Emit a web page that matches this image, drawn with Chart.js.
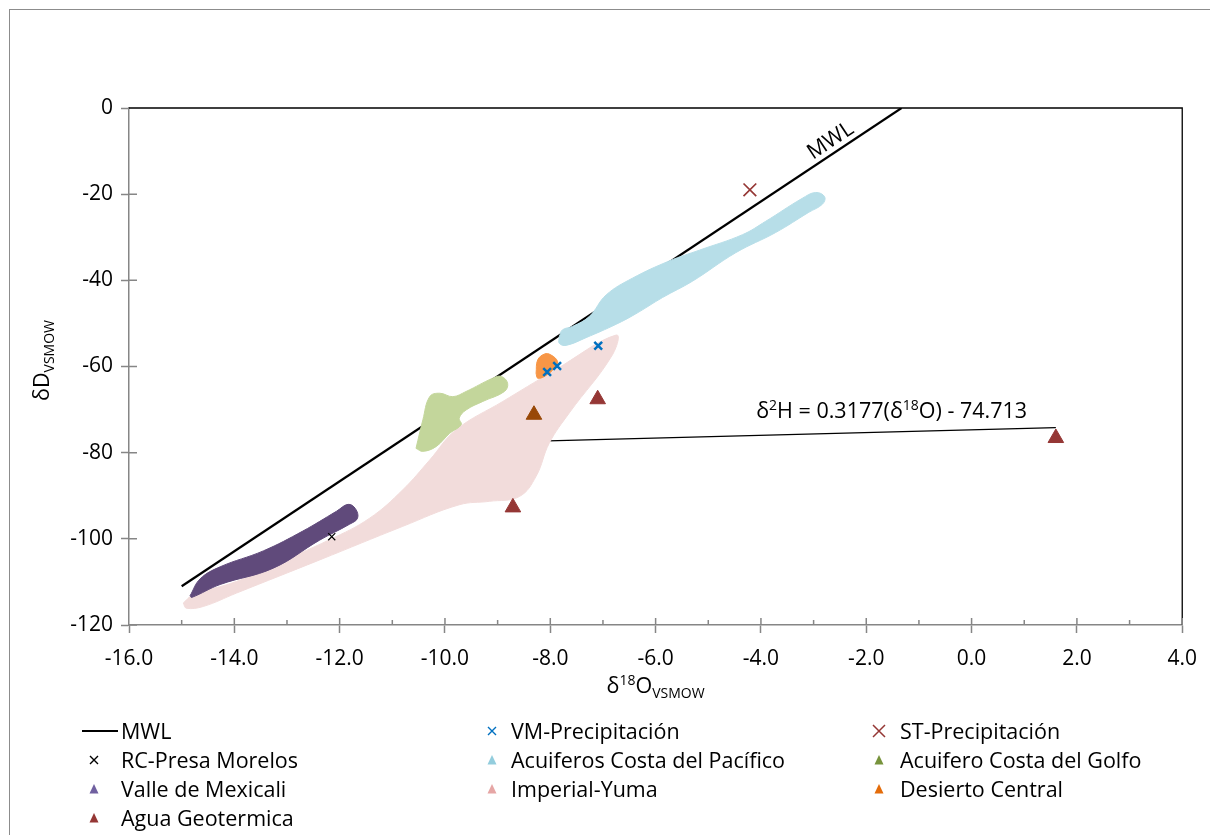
<!DOCTYPE html>
<html>
<head>
<meta charset="utf-8">
<script src="https://cdn.jsdelivr.net/npm/chart.js@4.4.1/dist/chart.umd.min.js"></script>
<style>
  body { margin: 0; background: #fff; }
  #wrap { position: relative; width: 1210px; height: 835px; overflow: hidden; }
  #frame { position: absolute; left: 9px; top: 9px; width: 1240px; height: 860px; border: 1px solid #8c8c8c; }
  #chart { position: absolute; left: 0; top: 0; }
  #legend { position: absolute; left: 0; top: 0; font-family: "Open Sans", Lato, sans-serif; font-size: 21.5px; color: #000; }
  .item { position: absolute; height: 28px; line-height: 28px; white-space: nowrap; }
  .item svg { position: absolute; top: 0; }
</style>
</head>
<body>
<div id="wrap">
  <div id="frame"></div>
  <canvas id="chart" width="1210" height="835"></canvas>
  <div id="legend"></div>
</div>
<script>
const FONT = '"Open Sans", Lato, sans-serif';

// axes
const xMin = -16, xMax = 4, xStep = 2;
const yMin = -120, yMax = 0, yStep = 20;

// reference lines [d18O, dD]
const mwl = [[-15, -111], [-1.33, 0]];
const trendGeo = [[-8.04, -77.27], [1.6, -74.2]];

// sample fields (outlines, d18O / dD)
const imperialYuma = [
  [-14.97, -114.9], [-14.78, -113.0], [-13.96, -109.9], [-13.33, -106.4], [-12.19, -100.2],
  [-11.43, -95.2], [-10.80, -88.6], [-10.29, -81.7], [-9.79, -74.7], [-8.90, -68.1],
  [-7.96, -61.2], [-6.75, -52.7], [-6.82, -57.3], [-7.64, -70.8], [-8.02, -77.8],
  [-8.27, -85.5], [-8.59, -90.2], [-9.16, -91.3], [-9.73, -92.1], [-10.80, -97.1],
  [-12.38, -104.9], [-13.96, -112.6], [-14.59, -115.7], [-14.91, -116.1]
];
const valleMexicali = [
  [-14.84, -113.2], [-14.65, -109.3], [-14.27, -106.5], [-13.45, -102.8], [-12.70, -98.2],
  [-12.06, -93.6], [-11.84, -92.0], [-11.70, -93.0], [-11.66, -95.2], [-11.81, -96.6],
  [-12.38, -100.3], [-13.26, -106.8], [-14.27, -110.6], [-14.81, -113.6]
];
const costaGolfo = [
  [-10.55, -79.0], [-10.42, -72.4], [-10.29, -67.0], [-10.10, -66.2], [-9.85, -67.0],
  [-9.60, -65.8], [-9.09, -62.7], [-8.93, -62.3], [-8.81, -63.9], [-8.87, -65.8],
  [-9.28, -68.1], [-9.60, -70.1], [-9.73, -72.0], [-9.69, -73.5], [-9.91, -75.5],
  [-10.17, -78.6], [-10.42, -79.7]
];
const desiertoCentral = [
  [-8.27, -61.6], [-8.24, -58.5], [-8.11, -57.1], [-7.99, -57.3], [-7.86, -58.9],
  [-7.92, -60.4], [-8.11, -62.3], [-8.24, -62.7]
];
const costaPacifico = [
  [-7.83, -53.1], [-7.77, -51.5], [-7.58, -50.7], [-7.26, -48.4], [-6.94, -43.4],
  [-6.44, -39.5], [-5.74, -35.5], [-5.17, -33.0], [-4.35, -29.4], [-3.91, -26.3],
  [-3.22, -21.0], [-2.96, -19.6], [-2.79, -20.6], [-2.83, -22.3], [-3.09, -24.2],
  [-3.72, -28.9], [-4.48, -33.6], [-5.30, -40.2], [-5.87, -44.0], [-6.38, -47.8],
  [-6.75, -50.2], [-7.32, -53.3], [-7.70, -55.1], [-7.83, -54.6]
];

// single samples
const vmPrecip = [[-8.06, -61.3], [-7.87, -59.9], [-7.09, -55.2]];
const stPrecip = [[-4.21, -19.0]];
const rcMorelos = [[-12.15, -99.5]];
const aguaGeo = [[-8.71, -92.7], [-7.10, -67.6], [-8.31, -71.2], [1.60, -76.6]];
const aguaGeoColors = ['#953735', '#953735', '#984807', '#953735'];

// legend
const legendNames = ['MWL', 'VM-Precipitación', 'ST-Precipitación', 'RC-Presa Morelos',
  'Acuiferos Costa del Pacífico', 'Acuifero Costa del Golfo', 'Valle de Mexicali',
  'Imperial-Yuma', 'Desierto Central', 'Agua Geotermica'];
const legendMarks = ['line', 'x', 'bigx', 'x', 'tri', 'tri', 'tri', 'tri', 'tri', 'tri'];
const legendColors = ['#000', '#0070C0', '#953735', '#000', '#93CDDD', '#77933C',
  '#7060A0', '#E6A6A5', '#E46C0A', '#953735'];

const pts = arr => arr.map(([x, y]) => ({ x, y }));
const closed = arr => pts(arr.concat([arr[0]]));

function field(label, data, color, order) {
  return {
    label, data: closed(data), showLine: true, fill: 'shape', tension: 0.4,
    backgroundColor: color, borderColor: color, borderWidth: 1,
    pointRadius: 0, pointHoverRadius: 0, order
  };
}

function drawRich(ctx, parts, x, y) {
  let cx = x;
  parts.forEach(p => {
    ctx.font = p.size + 'px ' + FONT;
    ctx.fillText(p.t, cx, y + (p.dy || 0));
    cx += ctx.measureText(p.t).width;
  });
  return cx - x;
}

function richWidth(ctx, parts) {
  let w = 0;
  parts.forEach(p => { ctx.font = p.size + 'px ' + FONT; w += ctx.measureText(p.t).width; });
  return w;
}

const annotate = {
  id: 'annotate',
  afterDraw(chart) {
    const { ctx, chartArea: a } = chart;
    const x = chart.scales.x, y = chart.scales.y;
    ctx.save();

    // plot border top / right
    ctx.strokeStyle = '#000';
    ctx.lineWidth = 1.3;
    ctx.beginPath();
    ctx.moveTo(a.left, a.top);
    ctx.lineTo(a.right, a.top);
    ctx.lineTo(a.right, a.bottom);
    ctx.stroke();

    // inner part of tick marks + minor ticks
    ctx.strokeStyle = '#868686';
    ctx.lineWidth = 1.5;
    ctx.beginPath();
    for (let v = yMin; v < yMax; v += yStep) {
      const py = y.getPixelForValue(v);
      ctx.moveTo(a.left, py);
      ctx.lineTo(a.left + 8, py);
    }
    for (let v = xMin + 1; v <= xMax; v += 1) {
      const px = x.getPixelForValue(v);
      ctx.moveTo(px, a.bottom);
      ctx.lineTo(px, a.bottom - (v % 2 === 0 ? 7 : 5));
    }
    ctx.stroke();

    ctx.fillStyle = '#000';
    ctx.textBaseline = 'alphabetic';

    // MWL label along the line
    const x0 = x.getPixelForValue(mwl[0][0]), y0 = y.getPixelForValue(mwl[0][1]);
    const x1 = x.getPixelForValue(mwl[1][0]), y1 = y.getPixelForValue(mwl[1][1]);
    const ang = Math.atan2(y1 - y0, x1 - x0);
    ctx.save();
    ctx.translate(x.getPixelForValue(-2.55), y.getPixelForValue(-10.0));
    ctx.rotate(ang);
    ctx.font = '21.5px ' + FONT;
    ctx.textAlign = 'center';
    ctx.fillText('MWL', 0, -6);
    ctx.restore();

    // regression equation
    ctx.textAlign = 'left';
    drawRich(ctx, [
      { t: 'δ', size: 21.5 }, { t: '2', size: 14, dy: -8 },
      { t: 'H = 0.3177(δ', size: 21.5 }, { t: '18', size: 14, dy: -8 },
      { t: 'O) - 74.713', size: 21.5 }
    ], x.getPixelForValue(-4.09), y.getPixelForValue(-71.9));

    // x axis title
    const xt = [{ t: 'δ', size: 21.5 }, { t: '18', size: 14, dy: -8 }, { t: 'O', size: 21.5 }, { t: 'VSMOW', size: 14, dy: 5 }];
    const xw = richWidth(ctx, xt);
    drawRich(ctx, xt, (a.left + a.right) / 2 - xw / 2, 693);

    // y axis title
    const yt = [{ t: 'δD', size: 21.5 }, { t: 'VSMOW', size: 14, dy: 5 }];
    const yw = richWidth(ctx, yt);
    ctx.save();
    ctx.translate(49, (a.top + a.bottom) / 2 - 6);
    ctx.rotate(-Math.PI / 2);
    drawRich(ctx, yt, -yw / 2, 0);
    ctx.restore();

    ctx.restore();
  }
};

const tickFont = { family: FONT, size: 21 };

new Chart(document.getElementById('chart'), {
  type: 'scatter',
  data: {
    datasets: [
      { label: 'MWL', data: pts(mwl), showLine: true, borderColor: '#000', borderWidth: 2.2,
        pointRadius: 0, order: 20 },
      { label: 'trend', data: pts(trendGeo), showLine: true, borderColor: '#000', borderWidth: 1.3,
        pointRadius: 0, order: 19 },
      field('Imperial-Yuma', imperialYuma, '#F2DCDB', 15),
      field('Valle de Mexicali', valleMexicali, '#604A7B', 14),
      field('Acuifero Costa del Golfo', costaGolfo, '#C3D69B', 13),
      field('Acuiferos Costa del Pacífico', costaPacifico, '#B7DEE8', 12),
      field('Desierto Central', desiertoCentral, '#F79646', 11),
      { label: 'Agua Geotermica', data: pts(aguaGeo), pointStyle: 'triangle', pointRadius: 9,
        pointBackgroundColor: aguaGeoColors, pointBorderColor: aguaGeoColors, pointBorderWidth: 1, order: 3 },
      { label: 'RC-Presa Morelos', data: pts(rcMorelos), pointStyle: 'crossRot', pointRadius: 5,
        pointBorderColor: '#000', pointBorderWidth: 1.2, order: 2 },
      { label: 'ST-Precipitación', data: pts(stPrecip), pointStyle: 'crossRot', pointRadius: 9,
        pointBorderColor: '#953735', pointBorderWidth: 1.7, order: 1 },
      { label: 'VM-Precipitación', data: pts(vmPrecip), pointStyle: 'crossRot', pointRadius: 5.5,
        pointBorderColor: '#0070C0', pointBorderWidth: 2.5, order: 0 }
    ]
  },
  options: {
    responsive: false,
    animation: false,
    events: [],
    layout: { padding: { left: 69, right: 26, top: 108, bottom: 160 } },
    plugins: { legend: { display: false }, tooltip: { enabled: false } },
    scales: {
      x: {
        type: 'linear', min: xMin, max: xMax,
        afterFit: s => { s.height = 50; },
        ticks: { stepSize: xStep, callback: v => v.toFixed(1), font: tickFont, color: '#000',
          padding: 13, maxRotation: 0, autoSkip: false },
        grid: { drawOnChartArea: false, tickLength: 8, color: '#868686', tickWidth: 1.5 },
        border: { color: '#868686', width: 1.5 }
      },
      y: {
        type: 'linear', min: yMin, max: yMax,
        afterFit: s => { s.width = 60; },
        ticks: { stepSize: yStep, font: tickFont, color: '#000', padding: 8 },
        grid: { drawOnChartArea: false, tickLength: 8, color: '#868686', tickWidth: 1.5 },
        border: { color: '#868686', width: 1.5 }
      }
    }
  },
  plugins: [annotate]
});

// legend (3 columns)
const textLeft = [121, 511, 900];
const markCenter = [94, 492, 879];
const rowTop = [717, 746, 775, 804];
const legendEl = document.getElementById('legend');
legendNames.forEach((name, i) => {
  const col = i % 3, row = Math.floor(i / 3);
  const item = document.createElement('div');
  item.className = 'item';
  item.style.left = textLeft[col] + 'px';
  item.style.top = rowTop[row] + 'px';
  const c = legendColors[i];
  let svg = '';
  if (legendMarks[i] === 'line') {
    svg = `<svg width="40" height="28" style="left:-40px"><line x1="1" y1="14" x2="37" y2="14" stroke="${c}" stroke-width="2.2"/></svg>`;
  } else {
    const off = markCenter[col] - textLeft[col] - 10;
    let shape;
    if (legendMarks[i] === 'tri') shape = `<polygon points="10,9 14.5,18.5 5.5,18.5" fill="${c}"/>`;
    else if (legendMarks[i] === 'bigx') shape = `<path d="M4 8 L16 20 M16 8 L4 20" stroke="${c}" stroke-width="1.5"/>`;
    else shape = `<path d="M6 10 L14 18 M14 10 L6 18" stroke="${c}" stroke-width="1.4"/>`;
    svg = `<svg width="20" height="28" style="left:${off}px">${shape}</svg>`;
  }
  item.innerHTML = svg + '<span>' + name + '</span>';
  legendEl.appendChild(item);
});
</script>
</body>
</html>
